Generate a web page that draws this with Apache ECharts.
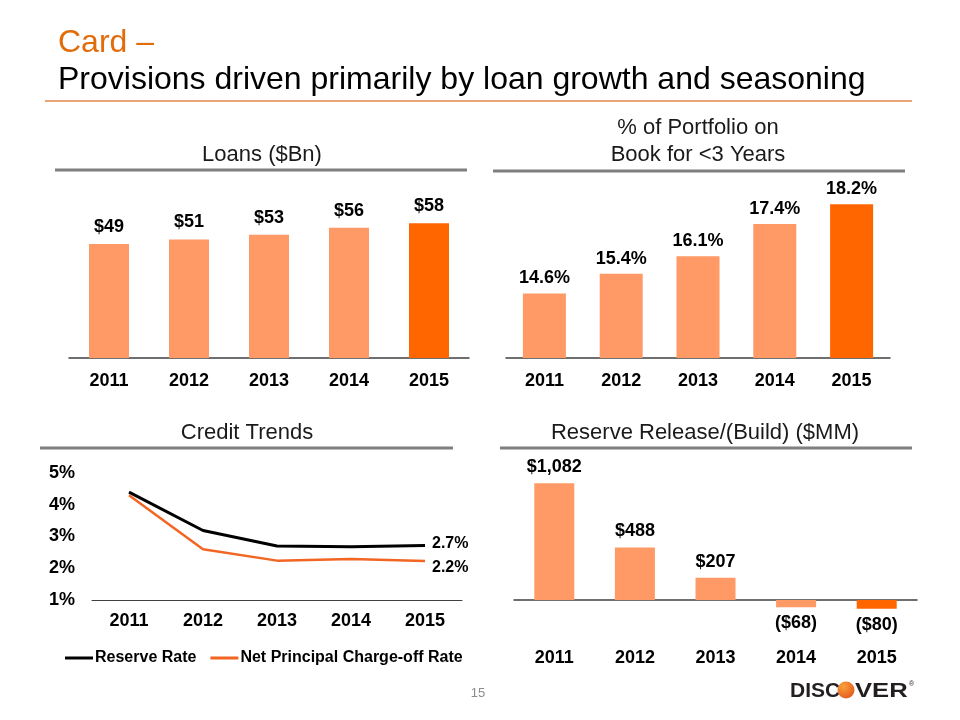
<!DOCTYPE html>
<html>
<head>
<meta charset="utf-8">
<script src="https://cdn.jsdelivr.net/npm/echarts@6/dist/echarts.min.js"></script>
<style>
html,body{margin:0;padding:0;background:#fff;}
#c{width:960px;height:720px;}
</style>
</head>
<body>
<div id="c"></div>
<script>
const years = ['2011', '2012', '2013', '2014', '2015'];
const loans = [49, 51, 53, 56, 58];
const bookPct = [14.6, 15.4, 16.1, 17.4, 18.2];
const reserveRate = [4.40, 3.19, 2.70, 2.68, 2.72];
const ncoRate = [4.30, 2.60, 2.24, 2.29, 2.23];
const reserveRelease = [1082, 488, 207, -68, -80];
const creditTicks = [1, 2, 3, 4, 5];

const FONT = 'Liberation Sans, Arial, sans-serif';
const LIGHT = '#FF9966';
const DARK = '#FF6600';
const last = years.length - 1;

function barItems(arr) {
  return arr.map((v, i) => ({
    value: v,
    itemStyle: { color: i === last ? DARK : LIGHT },
    label: { position: v >= 0 ? 'top' : 'bottom' }
  }));
}
function fmtMoney(v) {
  const s = '$' + Math.abs(v).toLocaleString('en-US');
  return v < 0 ? '(' + s + ')' : s;
}

const labelStyle = { show: true, fontFamily: FONT, fontWeight: 'bold', fontSize: 18, color: '#000' };
const xLabel = { fontFamily: FONT, fontWeight: 'bold', fontSize: 18, color: '#000' };
const axisLineStyle = { color: '#404040', width: 1.5 };

const chart = echarts.init(document.getElementById('c'), null, { renderer: 'canvas' });

const headerText = (x, y, text) => ({
  type: 'text', x: x, y: y,
  style: { text: text, fontFamily: FONT, fontSize: 22, fill: '#1a1a1a', textAlign: 'center', textVerticalAlign: 'middle', lineHeight: 27 }
});
const headerLine = (x1, x2, y) => ({
  type: 'line', shape: { x1: x1, y1: y, x2: x2, y2: y },
  style: { stroke: '#7F7F7F', lineWidth: 3 }
});

const option = {
  animation: false,
  backgroundColor: '#fff',
  graphic: [
    { type: 'text', x: 58, y: 43, style: { text: 'Card \u2013', fontFamily: FONT, fontSize: 32, fill: '#E36C0A', textVerticalAlign: 'middle' } },
    { type: 'text', x: 58, y: 80, style: { text: 'Provisions driven primarily by loan growth and seasoning', fontFamily: FONT, fontSize: 32, fill: '#000', textVerticalAlign: 'middle' } },
    { type: 'line', shape: { x1: 45, y1: 101, x2: 912, y2: 101 }, style: { stroke: '#E8A577', lineWidth: 2 } },
    headerText(262, 155, 'Loans ($Bn)'),
    headerLine(55, 467, 170),
    headerText(698, 141, '% of Portfolio on\nBook for <3 Years'),
    headerLine(493, 905, 171),
    headerText(247, 433, 'Credit Trends'),
    headerLine(40, 453, 448),
    headerText(705, 433, 'Reserve Release/(Build) ($MM)'),
    headerLine(500, 912, 448),
    { type: 'text', x: 478, y: 693, style: { text: '15', fontFamily: FONT, fontSize: 13, fill: '#8C8C8C', textAlign: 'center', textVerticalAlign: 'middle' } },
    { type: 'text', x: 790, y: 691, scaleX: 1.0, style: { text: 'DISC', fontFamily: FONT, fontWeight: 'bold', fontSize: 21, fill: '#231F20', textVerticalAlign: 'middle' } },
    { type: 'circle', shape: { cx: 846, cy: 690, r: 8.5 },
      style: { fill: { type: 'radial', x: 0.35, y: 0.3, r: 0.85, colorStops: [{ offset: 0, color: '#F9A03A' }, { offset: 1, color: '#E2531C' }] } } },
    { type: 'text', x: 855, y: 691, scaleX: 1.22, style: { text: 'VER', fontFamily: FONT, fontWeight: 'bold', fontSize: 21, fill: '#231F20', textVerticalAlign: 'middle' } },
    { type: 'text', x: 909, y: 684, style: { text: '\u00AE', fontFamily: FONT, fontSize: 7, fill: '#231F20', textVerticalAlign: 'middle' } }
  ],
  legend: {
    left: 60, top: 645, itemWidth: 28, itemHeight: 3, itemGap: 14, icon: 'rect',
    textStyle: { fontFamily: FONT, fontWeight: 'bold', fontSize: 16, color: '#000', padding: [0, 0, 0, -3] },
    data: ['Reserve Rate', 'Net Principal Charge-off Rate']
  },
  grid: [
    { left: 69, top: 172, width: 400, height: 186 },
    { left: 506, top: 172, width: 384, height: 186 },
    { left: 92, top: 473, width: 370, height: 127 },
    { left: 514, top: 449, width: 403, height: 172.6 }
  ],
  xAxis: [
    { gridIndex: 0, type: 'category', data: years, axisTick: { show: false }, axisLine: { lineStyle: axisLineStyle }, axisLabel: Object.assign({ margin: 14 }, xLabel) },
    { gridIndex: 1, type: 'category', data: years, axisTick: { show: false }, axisLine: { lineStyle: axisLineStyle }, axisLabel: Object.assign({ margin: 14 }, xLabel) },
    { gridIndex: 2, type: 'category', data: years, axisTick: { show: false }, axisLine: { lineStyle: { color: '#404040', width: 1 } }, axisLabel: Object.assign({ margin: 12 }, xLabel) },
    { gridIndex: 3, type: 'category', data: years, axisTick: { show: false }, axisLine: { onZero: true, lineStyle: axisLineStyle }, axisLabel: { show: false } },
    { gridIndex: 3, type: 'category', data: years, position: 'bottom', axisTick: { show: false }, axisLine: { show: false, onZero: false }, axisLabel: Object.assign({ margin: 27 }, xLabel) }
  ],
  yAxis: [
    { gridIndex: 0, type: 'value', min: 0, max: 80, show: false },
    { gridIndex: 1, type: 'value', min: 12, max: 19.5, show: false },
    { gridIndex: 2, type: 'value', min: creditTicks[0], max: creditTicks[creditTicks.length - 1], interval: 1,
      axisLine: { show: false }, axisTick: { show: false }, splitLine: { show: false },
      axisLabel: { formatter: '{value}%', margin: 17, fontFamily: FONT, fontWeight: 'bold', fontSize: 18, color: '#000' } },
    { gridIndex: 3, type: 'value', min: -200, max: 1400, show: false }
  ],
  series: [
    { type: 'bar', xAxisIndex: 0, yAxisIndex: 0, barWidth: 40, data: barItems(loans),
      label: Object.assign({ distance: 8, formatter: p => '$' + p.value }, labelStyle) },
    { type: 'bar', xAxisIndex: 1, yAxisIndex: 1, barWidth: 43, data: barItems(bookPct),
      label: Object.assign({ distance: 6, formatter: p => p.value.toFixed(1) + '%' }, labelStyle) },
    { name: 'Reserve Rate', type: 'line', xAxisIndex: 2, yAxisIndex: 2, data: reserveRate, symbol: 'none',
      lineStyle: { color: '#000', width: 3 }, itemStyle: { color: '#000' },
      endLabel: { show: true, distance: 7, offset: [0, -2], formatter: p => p.value.toFixed(1) + '%', fontFamily: FONT, fontWeight: 'bold', fontSize: 16, color: '#000' } },
    { name: 'Net Principal Charge-off Rate', type: 'line', xAxisIndex: 2, yAxisIndex: 2, data: ncoRate, symbol: 'none',
      lineStyle: { color: '#F26522', width: 2.5 }, itemStyle: { color: '#F26522' },
      endLabel: { show: true, distance: 7, offset: [0, 7], formatter: p => p.value.toFixed(1) + '%', fontFamily: FONT, fontWeight: 'bold', fontSize: 16, color: '#000' } },
    { type: 'bar', xAxisIndex: 3, yAxisIndex: 3, barWidth: 40, data: barItems(reserveRelease),
      label: Object.assign({ distance: 7, formatter: p => fmtMoney(p.value) }, labelStyle) }
  ]
};
chart.setOption(option);
</script>
</body>
</html>
